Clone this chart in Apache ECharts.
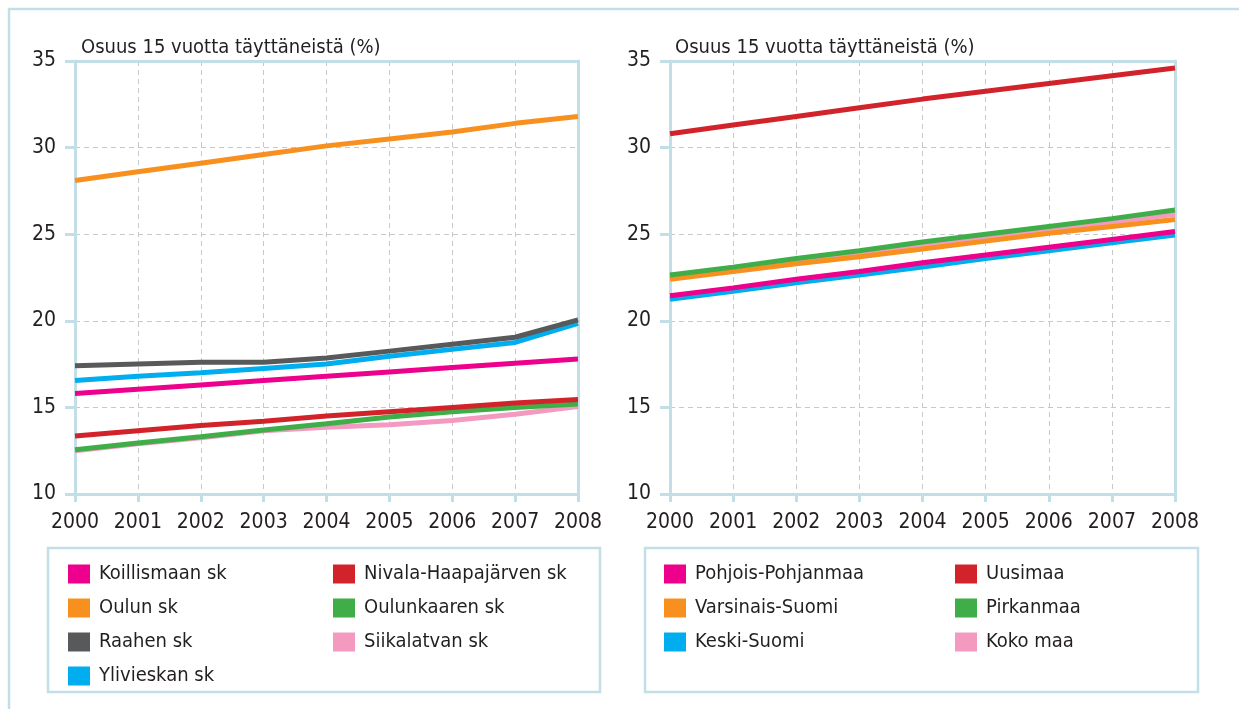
<!DOCTYPE html>
<html>
<head>
<meta charset="utf-8">
<script src="https://cdn.jsdelivr.net/npm/echarts@6/dist/echarts.min.js"></script>
<style>
  html, body { margin: 0; padding: 0; background: #fff; }
  #chart { width: 1239px; height: 709px; }
</style>
</head>
<body>
<div id="chart"></div>
<script>
  var years = ['2000', '2001', '2002', '2003', '2004', '2005', '2006', '2007', '2008'];

  // left panel: seutukunnat
  var koillismaan = [15.8, 16.05, 16.3, 16.55, 16.8, 17.05, 17.3, 17.55, 17.8];
  var oulun = [28.1, 28.6, 29.1, 29.6, 30.1, 30.5, 30.9, 31.4, 31.8];
  var raahen = [17.4, 17.5, 17.6, 17.6, 17.85, 18.25, 18.65, 19.05, 20.05];
  var ylivieskan = [16.55, 16.8, 17.0, 17.25, 17.5, 17.95, 18.35, 18.75, 19.85];
  var nivala = [13.35, 13.65, 13.95, 14.2, 14.5, 14.75, 15.0, 15.25, 15.45];
  var oulunkaaren = [12.55, 12.95, 13.3, 13.7, 14.05, 14.45, 14.75, 15.0, 15.2];
  var siikalatvan = [12.5, 12.9, 13.25, 13.65, 13.85, 14.0, 14.25, 14.6, 15.05];

  // right panel: maakunnat
  var pohjoisPohjanmaa = [21.45, 21.9, 22.4, 22.85, 23.35, 23.8, 24.25, 24.7, 25.15];
  var uusimaa = [30.8, 31.3, 31.8, 32.3, 32.8, 33.25, 33.7, 34.15, 34.6];
  var varsinaisSuomi = [22.4, 22.85, 23.3, 23.7, 24.15, 24.6, 25.05, 25.45, 25.85];
  var pirkanmaa = [22.65, 23.1, 23.6, 24.05, 24.55, 25.0, 25.45, 25.9, 26.4];
  var keskiSuomi = [21.25, 21.7, 22.2, 22.65, 23.1, 23.6, 24.05, 24.5, 24.95];
  var kokoMaa = [22.5, 22.95, 23.4, 23.85, 24.35, 24.8, 25.25, 25.7, 26.15];

  var FONT = '"DejaVu Sans Condensed", "DejaVu Sans", sans-serif';
  var TEXT = '#231f20';
  var FRAME = '#c2dfe8';
  var GRID = '#c8c8c8';

  var colors = {
    magenta: '#ec008c',
    orange: '#f7901e',
    gray: '#58595b',
    blue: '#00aeef',
    red: '#d2232a',
    green: '#3fae49',
    pink: '#f49ac1'
  };

  function line(name, data, color, idx) {
    return {
      name: name,
      type: 'line',
      data: data,
      xAxisIndex: idx,
      yAxisIndex: idx,
      symbol: 'none',
      lineStyle: { width: 5, color: color },
      itemStyle: { color: color }
    };
  }

  function xMain(idx) {
    return {
      type: 'category',
      gridIndex: idx,
      data: years,
      boundaryGap: false,
      axisLine: { lineStyle: { color: FRAME, width: 3 } },
      axisTick: { show: true, length: 8, interval: 0, lineStyle: { color: FRAME, width: 3 } },
      axisLabel: { color: TEXT, fontSize: 21, fontFamily: FONT, margin: 18, interval: 0 },
      splitLine: { show: true, interval: 0, lineStyle: { color: GRID, type: [5, 4], width: 1 } }
    };
  }
  function xTop(idx) {
    return {
      type: 'category', gridIndex: idx, data: years, boundaryGap: false, position: 'top',
      axisLine: { lineStyle: { color: FRAME, width: 3 } },
      axisTick: { show: false }, axisLabel: { show: false }, splitLine: { show: false }
    };
  }
  function yMain(idx) {
    return {
      type: 'value',
      gridIndex: idx,
      min: 10, max: 35, interval: 5,
      axisLine: { show: true, lineStyle: { color: FRAME, width: 3 } },
      axisTick: { show: true, length: 10, lineStyle: { color: FRAME, width: 3 } },
      axisLabel: { color: TEXT, fontSize: 21, fontFamily: FONT, margin: 19 },
      splitLine: { show: true, lineStyle: { color: GRID, type: [5, 4], width: 1 } }
    };
  }
  function yRight(idx) {
    return {
      type: 'value', gridIndex: idx, min: 10, max: 35, interval: 5, position: 'right',
      axisLine: { show: true, lineStyle: { color: FRAME, width: 3 } },
      axisTick: { show: false }, axisLabel: { show: false }, splitLine: { show: false }
    };
  }

  function legend(names, left) {
    return {
      orient: 'vertical',
      left: left,
      top: 559,
      data: names,
      icon: 'rect',
      itemWidth: 22,
      itemHeight: 19,
      itemGap: 14,
      selectedMode: false,
      textStyle: { color: TEXT, fontSize: 20, lineHeight: 19, fontFamily: FONT, padding: [0, 0, 0, 4] }
    };
  }

  var chart = echarts.init(document.getElementById('chart'));

  chart.setOption({
    animation: false,
    title: [
      { text: 'Osuus 15 vuotta täyttäneistä (%)', left: 76, top: 33,
        textStyle: { color: TEXT, fontSize: 20, fontWeight: 'normal', fontFamily: FONT } },
      { text: 'Osuus 15 vuotta täyttäneistä (%)', left: 670, top: 33,
        textStyle: { color: TEXT, fontSize: 20, fontWeight: 'normal', fontFamily: FONT } }
    ],
    grid: [
      { left: 75, top: 61, width: 503, height: 433 },
      { left: 670, top: 61, width: 505, height: 433 }
    ],
    xAxis: [xMain(0), xMain(1), xTop(0), xTop(1)],
    yAxis: [yMain(0), yMain(1), yRight(0), yRight(1)],
    legend: [
      legend(['Koillismaan sk', 'Oulun sk', 'Raahen sk', 'Ylivieskan sk'], 63),
      legend(['Nivala-Haapajärven sk', 'Oulunkaaren sk', 'Siikalatvan sk'], 328),
      legend(['Pohjois-Pohjanmaa', 'Varsinais-Suomi', 'Keski-Suomi'], 659),
      legend(['Uusimaa', 'Pirkanmaa', 'Koko maa'], 950)
    ],
    graphic: [
      { type: 'rect', silent: true, z: -1,
        shape: { x: 9, y: 9, width: 1300, height: 800 },
        style: { fill: 'none', stroke: FRAME, lineWidth: 2.5 } },
      { type: 'rect', silent: true, z: -1,
        shape: { x: 48, y: 548, width: 552, height: 144 },
        style: { fill: 'none', stroke: FRAME, lineWidth: 2.5 } },
      { type: 'rect', silent: true, z: -1,
        shape: { x: 645, y: 548, width: 553, height: 144 },
        style: { fill: 'none', stroke: FRAME, lineWidth: 2.5 } }
    ],
    series: [
      line('Siikalatvan sk', siikalatvan, colors.pink, 0),
      line('Oulunkaaren sk', oulunkaaren, colors.green, 0),
      line('Nivala-Haapajärven sk', nivala, colors.red, 0),
      line('Ylivieskan sk', ylivieskan, colors.blue, 0),
      line('Raahen sk', raahen, colors.gray, 0),
      line('Koillismaan sk', koillismaan, colors.magenta, 0),
      line('Oulun sk', oulun, colors.orange, 0),

      line('Koko maa', kokoMaa, colors.pink, 1),
      line('Varsinais-Suomi', varsinaisSuomi, colors.orange, 1),
      line('Pirkanmaa', pirkanmaa, colors.green, 1),
      line('Keski-Suomi', keskiSuomi, colors.blue, 1),
      line('Pohjois-Pohjanmaa', pohjoisPohjanmaa, colors.magenta, 1),
      line('Uusimaa', uusimaa, colors.red, 1)
    ]
  });
</script>
</body>
</html>
